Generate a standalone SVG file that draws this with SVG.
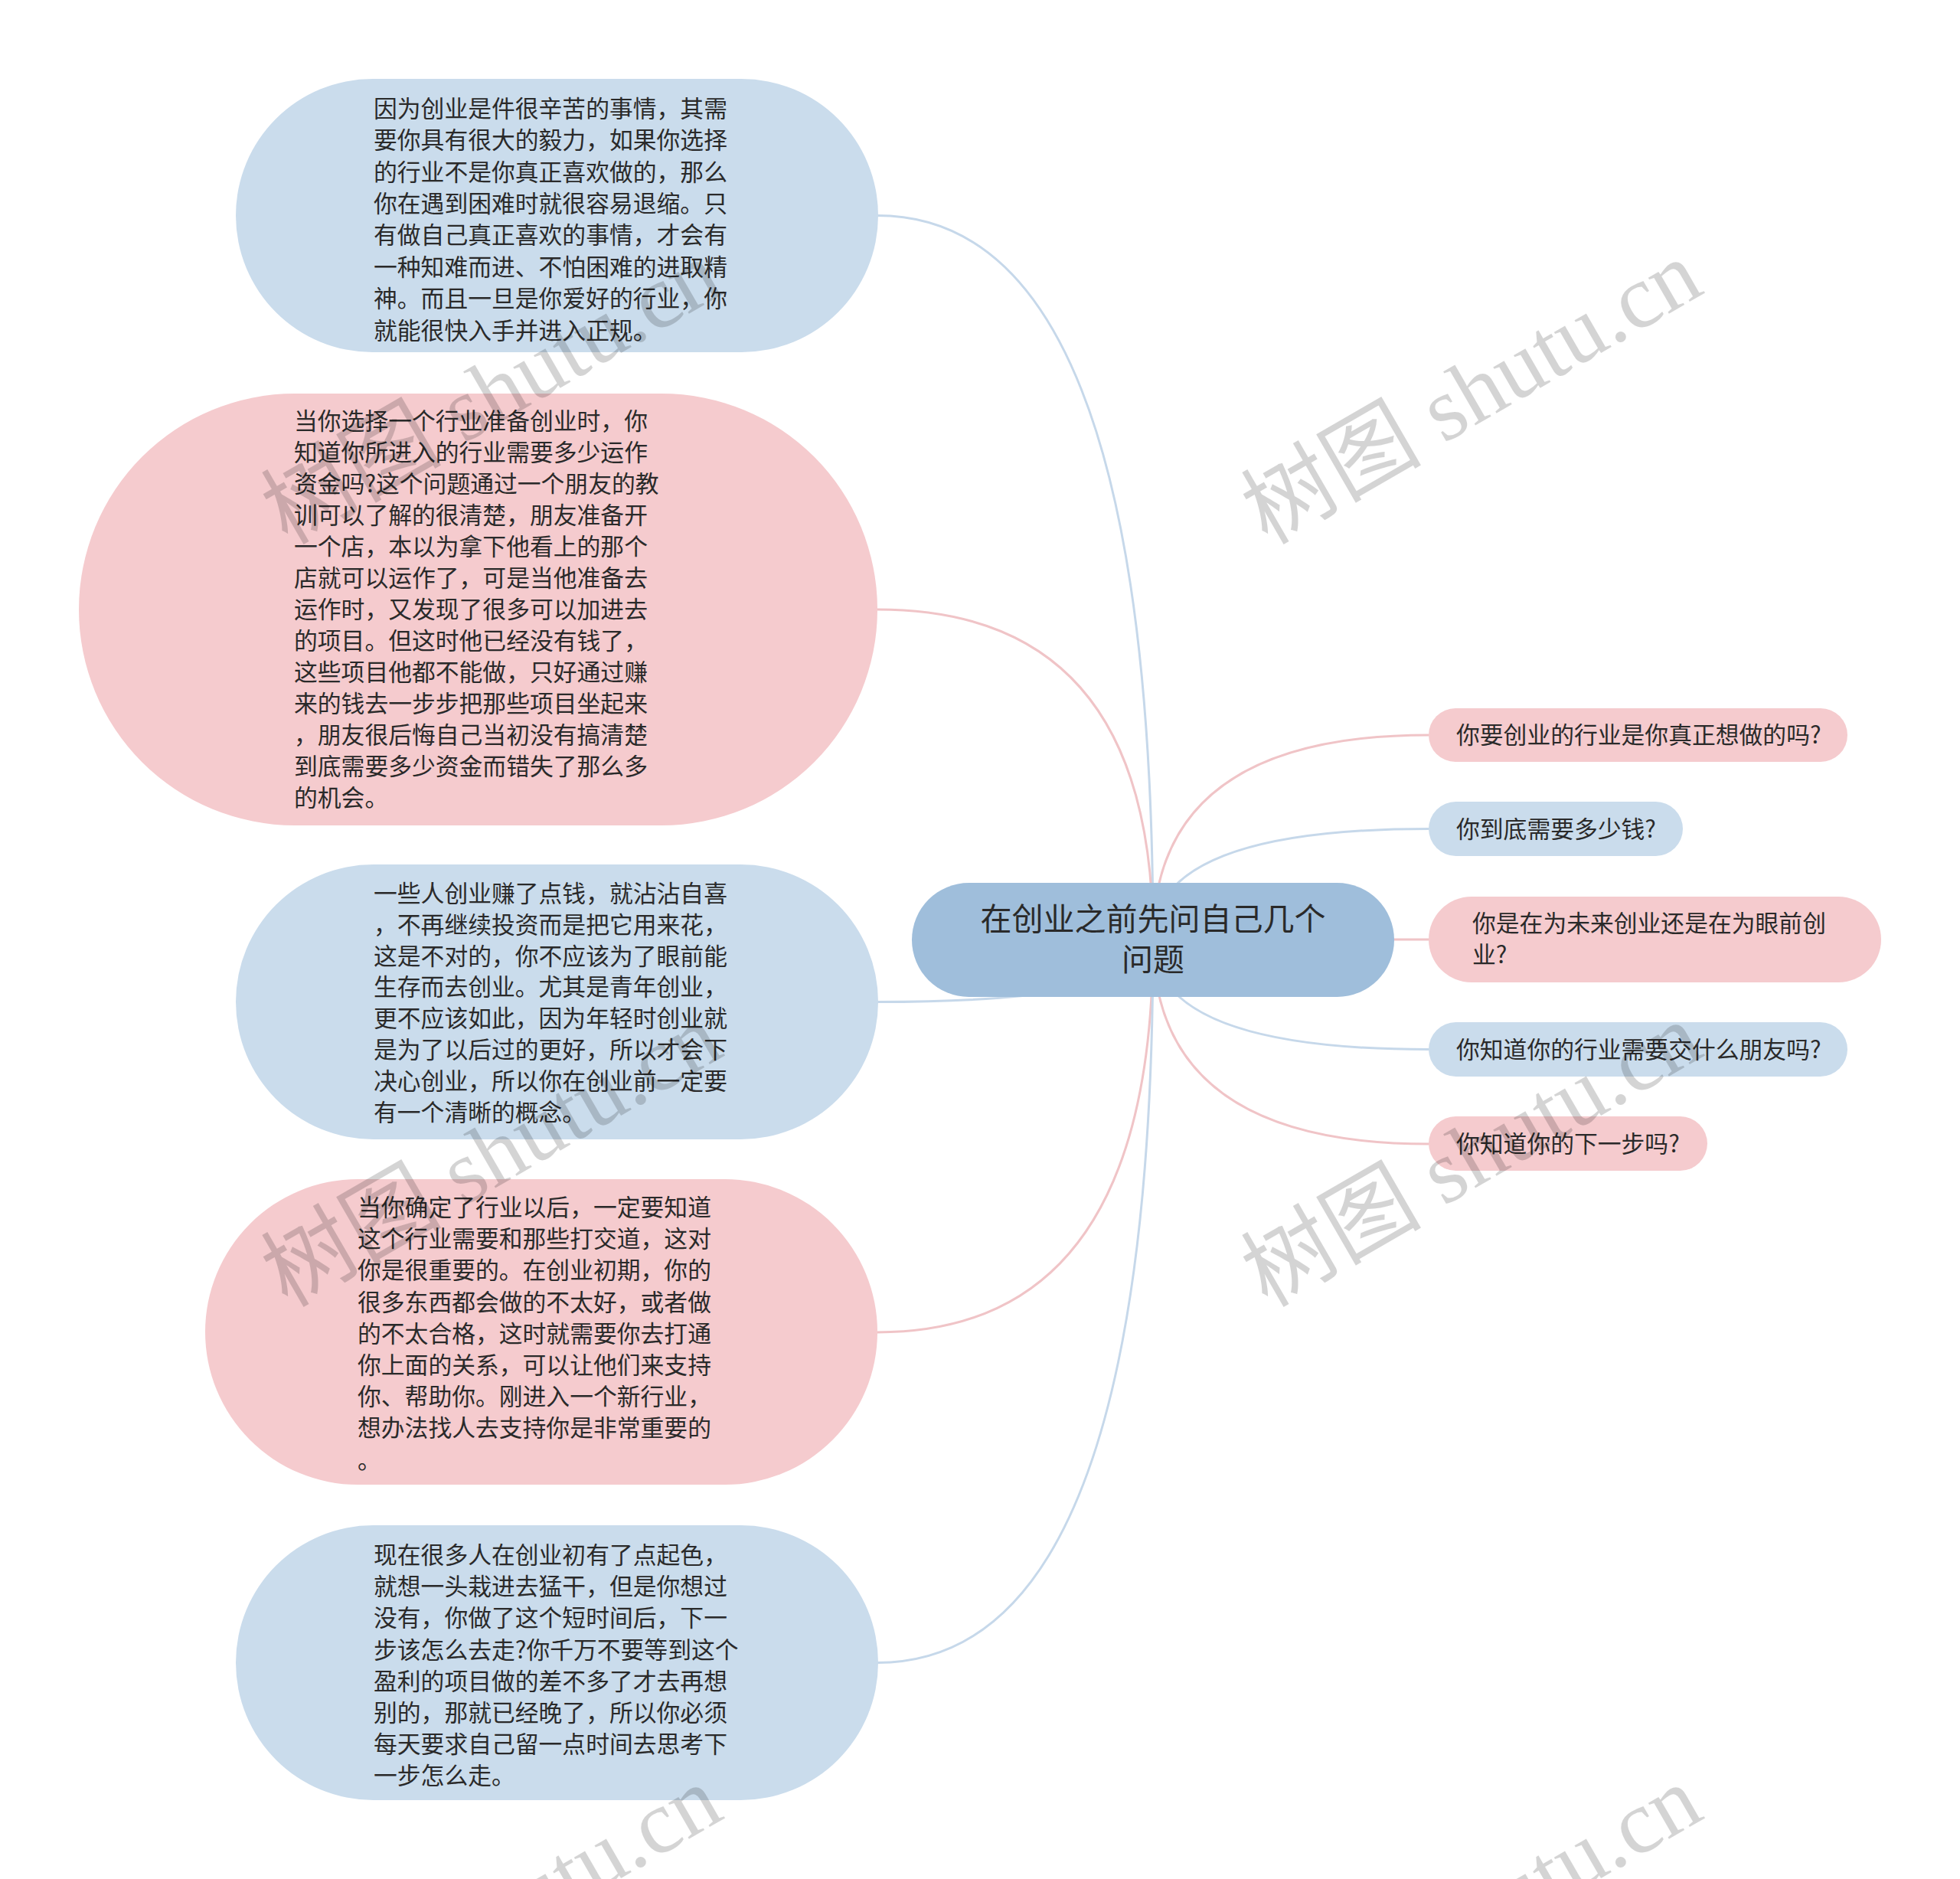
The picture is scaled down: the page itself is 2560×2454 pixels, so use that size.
<svg xmlns="http://www.w3.org/2000/svg" width="2560" height="2454" viewBox="0 0 2560 2454">
<style>
.bg{fill:#ffffff}
.blue{fill:#cadcec}
.pink{fill:#f5cbce}
.root{fill:#9fbedb}
.t{font-family:"Noto Sans CJK SC","Noto Sans",sans-serif;font-size:30.8px;fill:#2a2a2a}
.rt{font-family:"Noto Sans CJK SC","Noto Sans",sans-serif;font-size:41px;fill:#2a2a2a;text-anchor:middle}
.cb{fill:none;stroke:#c6d8ea;stroke-width:3}
.cp{fill:none;stroke:#f0c4c7;stroke-width:3}
.wm{font-family:"Liberation Serif","Noto Sans CJK SC",serif;font-size:118px;fill:#000;fill-opacity:0.17;text-anchor:middle}
</style>
<rect class="bg" x="0" y="0" width="2560" height="2454"/>
<g id="connectors">
<path class="cb" d="M1146 281.5 Q1506 281.5 1506 1227"/>
<path class="cp" d="M1146 796 Q1506 796 1506 1227"/>
<path class="cb" d="M1146 1308.5 Q1506 1308.5 1506 1227"/>
<path class="cp" d="M1146 1740 Q1506 1740 1506 1227"/>
<path class="cb" d="M1146 2171.5 Q1506 2171.5 1506 1227"/>
<path class="cp" d="M1506 1227 Q1506 960 1866 960"/>
<path class="cb" d="M1506 1227 Q1506 1082.5 1866 1082.5"/>
<path class="cp" d="M1506 1227 L1866 1227"/>
<path class="cb" d="M1506 1227 Q1506 1370.5 1866 1370.5"/>
<path class="cp" d="M1506 1227 Q1506 1494 1866 1494"/>
</g>
<g id="root">
<rect class="root" x="1191" y="1153" width="630" height="149" rx="74.5"/>
<text class="rt" x="1506" y="1214.5">在创业之前先问自己几个</text>
<text class="rt" x="1506" y="1267.5">问题</text>
</g>
<g id="node1">
<rect class="blue" x="308" y="103" width="839" height="357" rx="178.5"/>
<text class="t" x="488" y="152.5">因为创业是件很辛苦的事情，其需</text>
<text class="t" x="488" y="194">要你具有很大的毅力，如果你选择</text>
<text class="t" x="488" y="235.5">的行业不是你真正喜欢做的，那么</text>
<text class="t" x="488" y="276.9">你在遇到困难时就很容易退缩。只</text>
<text class="t" x="488" y="318.3">有做自己真正喜欢的事情，才会有</text>
<text class="t" x="488" y="359.7">一种知难而进、不怕困难的进取精</text>
<text class="t" x="488" y="401.1">神。而且一旦是你爱好的行业，你</text>
<text class="t" x="488" y="442.5">就能很快入手并进入正规。</text>
</g>
<g id="node2">
<rect class="pink" x="103" y="514" width="1043" height="564" rx="282"/>
<text class="t" x="384" y="560.5">当你选择一个行业准备创业时，你</text>
<text class="t" x="384" y="601.5">知道你所进入的行业需要多少运作</text>
<text class="t" x="384" y="642.5">资金吗?这个问题通过一个朋友的教</text>
<text class="t" x="384" y="683.5">训可以了解的很清楚，朋友准备开</text>
<text class="t" x="384" y="724.5">一个店，本以为拿下他看上的那个</text>
<text class="t" x="384" y="765.5">店就可以运作了，可是当他准备去</text>
<text class="t" x="384" y="806.5">运作时，又发现了很多可以加进去</text>
<text class="t" x="384" y="847.5">的项目。但这时他已经没有钱了，</text>
<text class="t" x="384" y="888.5">这些项目他都不能做，只好通过赚</text>
<text class="t" x="384" y="929.5">来的钱去一步步把那些项目坐起来</text>
<text class="t" x="384" y="970.5">，朋友很后悔自己当初没有搞清楚</text>
<text class="t" x="384" y="1011.5">到底需要多少资金而错失了那么多</text>
<text class="t" x="384" y="1052.5">的机会。</text>
</g>
<g id="node3">
<rect class="blue" x="308" y="1129" width="839" height="359" rx="179.5"/>
<text class="t" x="488" y="1177.7">一些人创业赚了点钱，就沾沾自喜</text>
<text class="t" x="488" y="1218.6">，不再继续投资而是把它用来花，</text>
<text class="t" x="488" y="1259.5">这是不对的，你不应该为了眼前能</text>
<text class="t" x="488" y="1300.4">生存而去创业。尤其是青年创业，</text>
<text class="t" x="488" y="1341.3">更不应该如此，因为年轻时创业就</text>
<text class="t" x="488" y="1382.2">是为了以后过的更好，所以才会下</text>
<text class="t" x="488" y="1423.1">决心创业，所以你在创业前一定要</text>
<text class="t" x="488" y="1464">有一个清晰的概念。</text>
</g>
<g id="node4">
<rect class="pink" x="268" y="1540" width="878" height="399" rx="199.5"/>
<text class="t" x="467" y="1588">当你确定了行业以后，一定要知道</text>
<text class="t" x="467" y="1629.2">这个行业需要和那些打交道，这对</text>
<text class="t" x="467" y="1670.4">你是很重要的。在创业初期，你的</text>
<text class="t" x="467" y="1711.6">很多东西都会做的不太好，或者做</text>
<text class="t" x="467" y="1752.8">的不太合格，这时就需要你去打通</text>
<text class="t" x="467" y="1794">你上面的关系，可以让他们来支持</text>
<text class="t" x="467" y="1835.2">你、帮助你。刚进入一个新行业，</text>
<text class="t" x="467" y="1876.4">想办法找人去支持你是非常重要的</text>
<text class="t" x="467" y="1917.6">。</text>
</g>
<g id="node5">
<rect class="blue" x="308" y="1992" width="839" height="359" rx="179.5"/>
<text class="t" x="488" y="2042">现在很多人在创业初有了点起色，</text>
<text class="t" x="488" y="2083.2">就想一头栽进去猛干，但是你想过</text>
<text class="t" x="488" y="2124.4">没有，你做了这个短时间后，下一</text>
<text class="t" x="488" y="2165.6">步该怎么去走?你千万不要等到这个</text>
<text class="t" x="488" y="2206.8">盈利的项目做的差不多了才去再想</text>
<text class="t" x="488" y="2248">别的，那就已经晚了，所以你必须</text>
<text class="t" x="488" y="2289.2">每天要求自己留一点时间去思考下</text>
<text class="t" x="488" y="2330.4">一步怎么走。</text>
</g>
<g id="r1">
<rect class="pink" x="1866" y="925" width="547" height="70" rx="35"/>
<text class="t" x="1902" y="971">你要创业的行业是你真正想做的吗?</text>
</g>
<g id="r2">
<rect class="blue" x="1866" y="1047" width="332" height="71" rx="35.5"/>
<text class="t" x="1902" y="1093.5">你到底需要多少钱?</text>
</g>
<g id="r3">
<rect class="pink" x="1866" y="1171" width="591" height="112" rx="56"/>
<text class="t" x="1923" y="1217">你是在为未来创业还是在为眼前创</text>
<text class="t" x="1923" y="1258">业?</text>
</g>
<g id="r4">
<rect class="blue" x="1866" y="1335" width="547" height="71" rx="35.5"/>
<text class="t" x="1902" y="1381.5">你知道你的行业需要交什么朋友吗?</text>
</g>
<g id="r5">
<rect class="pink" x="1866" y="1458" width="364" height="71" rx="35.5"/>
<text class="t" x="1902" y="1504.5">你知道你的下一步吗?</text>
</g>
<g id="watermarks">
<text class="wm" transform="translate(1942 547) rotate(-30)">树图 shutu.cn</text>
<text class="wm" transform="translate(662 547) rotate(-30)">树图 shutu.cn</text>
<text class="wm" transform="translate(1942 1543) rotate(-30)">树图 shutu.cn</text>
<text class="wm" transform="translate(662 1543) rotate(-30)">树图 shutu.cn</text>
<text class="wm" transform="translate(1942 2539) rotate(-30)">树图 shutu.cn</text>
<text class="wm" transform="translate(662 2539) rotate(-30)">树图 shutu.cn</text>
</g>
</svg>
